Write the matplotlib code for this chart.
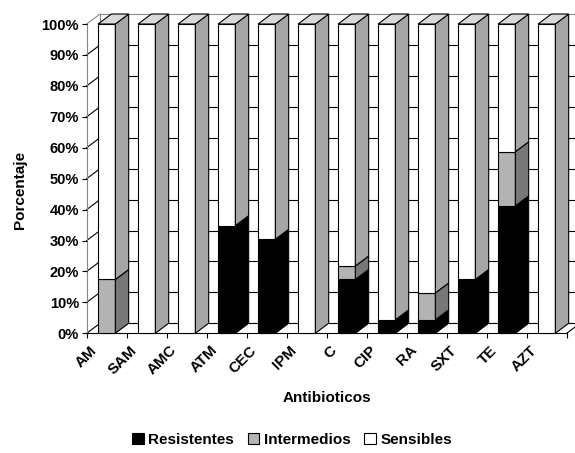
#!/usr/bin/env python
# -*- coding: utf-8 -*-
"""
Antibiotic susceptibility, 100% stacked columns drawn with a flat 3D look.
"""

# ==== Imports ==== #
import matplotlib
matplotlib.use("Agg")
import matplotlib.pyplot as plt
from matplotlib.patches import Polygon, Patch
from matplotlib.transforms import ScaledTranslation

# ==== Data (percent of isolates) ==== #
categories = ["AM", "SAM", "AMC", "ATM", "CEC", "IPM", "C", "CIP", "RA", "SXT", "TE", "AZT"]
resistentes = [0, 0, 0, 34.8, 30.4, 0, 17.4, 4.35, 4.35, 17.4, 41.2, 0]
intermedios = [17.4, 0, 0, 0, 0, 0, 4.35, 0, 8.7, 0, 17.5, 0]
sensibles = [82.6, 100, 100, 65.2, 69.6, 100, 78.25, 95.65, 86.95, 82.6, 41.3, 100]
series_names = ["Resistentes", "Intermedios", "Sensibles"]
yticks = list(range(0, 101, 10))

# ==== Style ==== #
front_col = ["#000000", "#b3b3b3", "#ffffff"]
side_col = ["#000000", "#777777", "#a6a6a6"]
top_col = "#d9d9d9"
DX, DY = 0.333, 3.23      # depth offset (x in categories, y in percent)
half_w = 0.216            # half width of a bar front
lw = 0.8

plt.rcParams["font.family"] = ["Liberation Sans", "DejaVu Sans"]
plt.rcParams["font.weight"] = "bold"

fig = plt.figure(figsize=(5.75, 4.53), dpi=100)
ax = fig.add_axes([86.7 / 575, (453 - 333.3) / 453, 480 / 575, 309.3 / 453])
ax.set_xlim(-0.5, len(categories) - 0.5)
ax.set_ylim(0, 100)
for s in ax.spines.values():
    s.set_visible(False)
ax.patch.set_visible(False)

x_lo, x_hi = -0.5, len(categories) - 0.5

# ==== Walls and floor ==== #
for p in yticks:
    c = "#888888" if p == 100 else "black"
    ax.plot([x_lo + DX, x_hi + DX], [p + DY, p + DY], color=c, lw=lw, clip_on=False, zorder=1)
    ax.plot([x_lo, x_lo + DX], [p, p + DY], color=c, lw=lw, clip_on=False, zorder=1)
ax.plot([x_lo, x_lo], [0, 100], color="#888888", lw=lw, clip_on=False, zorder=1)
ax.plot([x_lo + DX, x_lo + DX], [DY, 100 + DY], color="#888888", lw=lw, clip_on=False, zorder=1)
ax.plot([x_lo, x_hi], [0, 0], color="black", lw=lw, clip_on=False, zorder=2)
ax.plot([x_hi, x_hi + DX], [0, DY], color="black", lw=lw, clip_on=False, zorder=2)

# ==== Bars ==== #
totals = [r + i + s for r, i, s in zip(resistentes, intermedios, sensibles)]
for k in range(len(categories)):
    vals = [resistentes[k], intermedios[k], sensibles[k]]
    x0, x1 = k - half_w, k + half_w
    base = 0.0
    for j, v in enumerate(vals):
        if v <= 0:
            continue
        top = base + v / totals[k] * 100
        front = [(x0, base), (x1, base), (x1, top), (x0, top)]
        side = [(x1, base), (x1 + DX, base + DY), (x1 + DX, top + DY), (x1, top)]
        ax.add_patch(Polygon(front, facecolor=front_col[j], edgecolor="black", lw=lw,
                             clip_on=False, zorder=3))
        ax.add_patch(Polygon(side, facecolor=side_col[j], edgecolor="black", lw=lw,
                             clip_on=False, zorder=3))
        base = top
    cap = [(x0, 100), (x1, 100), (x1 + DX, 100 + DY), (x0 + DX, 100 + DY)]
    ax.add_patch(Polygon(cap, facecolor=top_col, edgecolor="black", lw=lw, clip_on=False, zorder=3))

# ==== Axes ticks and labels ==== #
ax.set_yticks(yticks)
ax.set_yticklabels([f"{p}%" for p in yticks], fontsize=10.5, fontweight="bold")
ax.tick_params(axis="y", length=3.6, width=lw, pad=2, color="black")

ax.set_xticks(range(len(categories)))
ax.set_xticklabels(categories, rotation=45, ha="right", va="top", fontsize=11, fontweight="bold")
ax.set_xticks([x_lo + k for k in range(len(categories) + 1)], minor=True)
ax.tick_params(axis="x", which="major", length=0, pad=7)
ax.tick_params(axis="x", which="minor", length=3.6, width=lw, color="black")
shift = ScaledTranslation(-7 / 100, 0, fig.dpi_scale_trans)
for lab in ax.get_xticklabels():
    lab.set_transform(lab.get_transform() + shift)

fig.text(20 / 575, 1 - 190 / 453, "Porcentaje", rotation=90, ha="center", va="center",
         fontsize=11, fontweight="bold")
fig.text(326.7 / 575, 1 - 398 / 453, "Antibioticos", ha="center", va="center",
         fontsize=11, fontweight="bold")

# ==== Legend ==== #
handles = [Patch(facecolor=front_col[j], edgecolor="black", lw=lw) for j in range(3)]
fig.legend(handles, series_names, loc="center", bbox_to_anchor=(292 / 575, 13 / 453),
           ncol=3, frameon=False, fontsize=11, handlelength=0.75, handleheight=0.75,
           handletextpad=0.3, columnspacing=0.9, borderpad=0)

fig.savefig("out.png", dpi=100)
